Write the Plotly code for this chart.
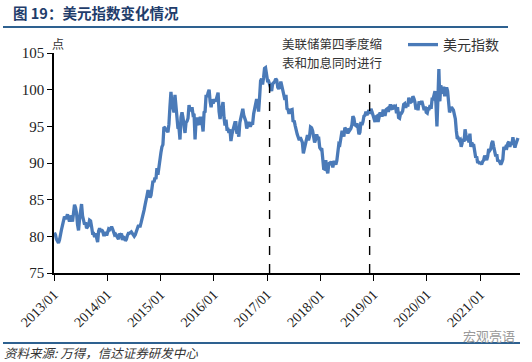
import pandas as pd
import plotly.graph_objects as go

# ---- data: approximate weekly readings of the US dollar index (DXY) ----
dxy_2013 = [80.5, 80.2, 79.6, 79.3, 79.1, 79.5, 80.0, 80.9, 81.5, 82.2, 82.7, 82.4, 82.6,
            83.0, 82.5, 82.0, 82.8, 82.6, 82.0, 83.2, 84.3, 83.9, 83.2, 81.6, 80.8, 82.3,
            83.1, 84.4, 82.8, 82.3, 81.6, 81.9, 81.1, 81.3, 81.5, 82.2, 82.1, 81.3, 80.4,
            80.4, 79.9, 80.4, 79.7, 79.2, 80.7, 81.1, 80.6, 80.9, 80.7, 80.2, 80.2, 80.6, 80.1]
dxy_2014 = [80.8, 81.0, 80.9, 81.2, 81.3, 81.0, 80.7, 80.2, 80.3, 80.1, 79.7, 79.6, 80.4,
            80.1, 80.4, 79.5, 79.9, 79.8, 79.4, 79.6, 80.1, 80.4, 80.4, 80.6, 80.6, 80.4,
            80.1, 80.0, 80.2, 80.7, 81.0, 81.4, 81.4, 81.4, 81.9, 82.4, 82.7, 83.6, 84.3,
            84.8, 85.6, 86.3, 85.5, 85.3, 85.6, 86.9, 87.6, 87.4, 88.0, 87.8, 89.3, 88.4,
            89.6, 90.0]
dxy_2015 = [91.4, 92.2, 92.5, 94.9, 94.8, 94.5, 94.5, 94.2, 95.3, 97.7, 99.7, 98.2, 97.5,
            96.9, 99.3, 97.5, 96.8, 94.7, 94.8, 93.2, 96.2, 96.9, 96.2, 95.3, 94.1, 95.5,
            95.7, 96.1, 97.9, 97.2, 97.2, 97.6, 96.6, 96.7, 93.2, 95.8, 96.2, 95.4, 95.2,
            96.1, 96.1, 95.5, 94.3, 96.9, 97.0, 99.3, 99.0, 99.6, 100.0, 98.4, 97.6, 98.7,
            98.1]
dxy_2016 = [98.7, 98.4, 98.6, 99.1, 99.6, 97.0, 96.0, 97.0, 97.6, 98.3, 96.2, 95.1, 95.9,
            94.6, 94.6, 94.1, 94.6, 93.0, 93.9, 94.6, 95.3, 95.5, 95.5, 94.0, 94.2, 93.6,
            95.5, 96.3, 96.6, 97.4, 96.5, 96.2, 95.7, 94.7, 95.1, 95.6, 95.1, 95.1, 95.4,
            95.4, 96.7, 97.6, 98.0, 98.7, 98.3, 97.0, 98.9, 101.2, 101.5, 100.7, 101.6,
            102.9, 103.0, 102.2]
dxy_2017 = [101.2, 101.2, 100.7, 100.6, 99.8, 100.8, 100.9, 101.1, 101.5, 101.3, 100.3,
            100.1, 100.4, 101.1, 100.5, 99.8, 99.0, 98.6, 99.3, 97.4, 97.3, 96.7, 97.2,
            97.2, 97.3, 95.6, 95.8, 95.1, 94.2, 93.9, 93.5, 93.1, 93.5, 93.2, 92.8, 91.3,
            91.9, 92.2, 92.8, 93.8, 93.1, 93.6, 94.9, 94.8, 94.4, 93.6, 92.8, 93.2, 93.9,
            93.4, 93.4, 92.1]
dxy_2018 = [91.9, 92.0, 90.6, 89.1, 89.2, 90.4, 89.1, 88.6, 89.9, 90.0, 89.9, 90.2, 89.4,
            90.1, 90.1, 89.8, 90.3, 91.6, 92.6, 92.5, 93.5, 94.2, 94.2, 93.6, 94.8, 94.6,
            94.5, 94.0, 94.7, 94.5, 94.7, 95.2, 96.4, 96.1, 95.2, 95.1, 95.4, 94.9, 93.9,
            94.2, 95.6, 95.2, 95.6, 96.4, 96.5, 97.0, 96.5, 96.9, 97.2, 96.7, 97.4, 97.0,
            96.4]
dxy_2019 = [96.2, 95.6, 96.3, 96.4, 95.6, 96.6, 96.9, 96.5, 96.5, 97.3, 96.6, 96.6, 97.3,
            97.4, 97.0, 97.4, 98.0, 97.5, 97.3, 97.9, 97.6, 97.7, 96.8, 97.6, 96.2, 96.1,
            96.8, 96.8, 97.1, 98.0, 98.1, 97.5, 98.1, 97.7, 98.9, 98.4, 98.3, 98.4, 99.1,
            98.8, 98.3, 97.3, 97.8, 97.2, 98.4, 98.0, 98.3, 98.3, 97.7, 97.2, 97.7, 96.9]
dxy_2020 = [96.8, 97.4, 97.4, 97.9, 97.4, 98.7, 98.7, 99.3, 99.8, 98.1, 95.0, 98.7, 102.8,
            98.4, 100.6, 99.5, 99.7, 100.4, 99.1, 99.8, 100.3, 99.8, 98.4, 96.9, 97.3, 97.6,
            97.4, 97.2, 96.6, 96.0, 94.4, 93.3, 93.4, 93.1, 93.2, 92.2, 92.7, 93.3, 92.9,
            94.6, 93.8, 93.1, 93.7, 92.8, 94.0, 92.2, 92.8, 92.4, 92.4, 91.8, 90.7, 90.9,
            90.0, 90.2, 89.9]
dxy_2021 = [90.1, 89.8, 90.2, 90.4, 91.0, 90.5, 90.4, 90.9, 91.9, 91.7, 91.9, 92.7, 93.0,
            92.2, 91.6, 90.9, 91.2, 90.2, 90.4, 90.0, 89.8, 90.1, 90.5, 92.2, 91.8, 92.2,
            92.1, 92.7, 92.9, 92.2, 92.8, 92.5, 93.5, 92.7, 92.1, 92.6, 93.2, 93.4]

year_lists = [(2013, dxy_2013), (2014, dxy_2014), (2015, dxy_2015), (2016, dxy_2016),
              (2017, dxy_2017), (2018, dxy_2018), (2019, dxy_2019), (2020, dxy_2020),
              (2021, dxy_2021)]
last_date = "2021-09-17"

event_dates = ["2017-01-18", "2018-12-05"]
event_tops = [101.8, 100.7]

tick_labels = ["2013/01", "2014/01", "2015/01", "2016/01", "2017/01",
               "2018/01", "2019/01", "2020/01", "2021/01"]

title_text = "图 19：美元指数变化情况"
series_name = "美元指数"
note_lines = ["美联储第四季度缩", "表和加息同时进行"]
unit_text = "点"
source_text = "资料来源: 万得，信达证券研发中心"
mark_text = "宏观亮语"

# ---- build date axis for each year's weekly readings ----
xs, ys = [], []
for yr, vals in year_lists:
    start = pd.Timestamp(f"{yr}-01-04")
    end = pd.Timestamp(last_date) if yr == 2021 else pd.Timestamp(f"{yr}-12-28")
    dates = pd.date_range(start, end, periods=len(vals))
    xs.extend(dates)
    ys.extend(vals)

tick_vals = [pd.Timestamp(t.replace("/", "-") + "-01") for t in tick_labels]

fig = go.Figure()
fig.add_trace(go.Scatter(x=xs, y=ys, mode="lines", name=series_name,
                         line=dict(color="#4a7ab8", width=3.3)))

for d, top in zip(event_dates, event_tops):
    fig.add_shape(type="line", xref="x", yref="y", x0=d, x1=d, y0=75, y1=top,
                  line=dict(color="black", width=1.4, dash="dash"))

CJK = "Noto Sans CJK SC"
SERIF = "Liberation Serif"

# plot area: x 54..520, y 53..273
PW, PH = 466, 220
def px(xpix):
    return (xpix - 54) / PW
def py(ypix):
    return (273 - ypix) / PH

fig.update_layout(
    width=532, height=362,
    margin=dict(l=54, r=12, t=53, b=89, autoexpand=False),
    paper_bgcolor="white", plot_bgcolor="white",
    showlegend=True,
    legend=dict(x=px(403), y=py(45), xanchor="left", yanchor="middle",
                font=dict(family=CJK, size=14, color="#333333"),
                bgcolor="rgba(0,0,0,0)", itemwidth=30),
    xaxis=dict(range=["2013-01-01", "2021-10-01"], tickvals=tick_vals,
               ticktext=tick_labels, tickangle=-45, ticks="outside", ticklen=6,
               tickcolor="black", showline=True, linecolor="black", linewidth=1.5,
               showgrid=False, zeroline=False, automargin=False,
               tickfont=dict(family=SERIF, size=14, color="#222222")),
    yaxis=dict(range=[75, 105], dtick=5, ticks="outside", ticklen=5,
               tickcolor="black", showline=True, linecolor="black", linewidth=1.5,
               showgrid=False, zeroline=False, automargin=False,
               tickfont=dict(family=SERIF, size=15, color="#222222")),
)

fig.add_annotation(text=f"<b>{title_text}</b>", xref="paper", yref="paper",
                   x=px(11), y=py(13), xanchor="left", yanchor="middle",
                   showarrow=False, font=dict(family=CJK, size=14.5, color="#1f3d6b"))
fig.add_annotation(text=unit_text, xref="paper", yref="paper",
                   x=px(50), y=py(44), xanchor="left", yanchor="middle",
                   showarrow=False, font=dict(family=CJK, size=12, color="#333333"))
for i, line in enumerate(note_lines):
    fig.add_annotation(text=line, xref="paper", yref="paper",
                       x=px(280), y=py(44 + 18 * i), xanchor="left", yanchor="middle",
                       showarrow=False, font=dict(family=CJK, size=12.5, color="#333333"))
fig.add_annotation(text=f"<i>{source_text}</i>", xref="paper", yref="paper",
                   x=px(2), y=py(352), xanchor="left", yanchor="middle",
                   showarrow=False, font=dict(family=CJK, size=12.5, color="#333333"))
fig.add_annotation(text=mark_text, xref="paper", yref="paper",
                   x=px(461), y=py(335), xanchor="left", yanchor="middle",
                   showarrow=False, font=dict(family=CJK, size=13, color="#9a9a9a"))

# decorative rules above and below the chart
fig.add_shape(type="line", xref="paper", yref="paper", x0=px(3), x1=px(508),
              y0=py(27), y1=py(27), line=dict(color="#2e6190", width=2))
fig.add_shape(type="line", xref="paper", yref="paper", x0=px(3), x1=px(520),
              y0=py(343), y1=py(343), line=dict(color="#2e6190", width=2))

fig.write_html("out.html", config={"displayModeBar": False},
               post_script="document.body.style.margin='0px';")
